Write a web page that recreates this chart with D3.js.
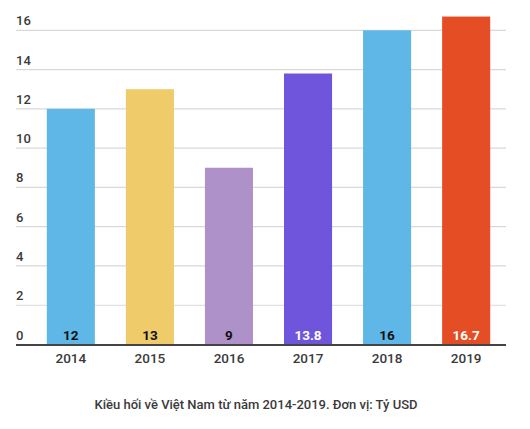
<!DOCTYPE html>
<html>
<head>
<meta charset="utf-8">
<script src="https://cdn.jsdelivr.net/npm/d3@7"></script>
<style>
  body { margin: 0; background: #fff; }
  text { font-family: Roboto, "Noto Sans", sans-serif; }
</style>
</head>
<body>
<div id="chart"></div>
<script>
// Data
var years = ["2014", "2015", "2016", "2017", "2018", "2019"];
var remittances = [12, 13, 9, 13.8, 16, 16.7];
var barColors = ["#5eb7e6", "#f0cb6a", "#ad91c8", "#6e55dc", "#5eb7e6", "#e54e24"];
var labelColors = ["#111", "#111", "#111", "#fff", "#111", "#fff"];
var yTicks = [0, 2, 4, 6, 8, 10, 12, 14, 16];
var caption = "Kiều hối về Việt Nam từ năm 2014-2019. Đơn vị: Tỷ USD";

var svgWidth = 530;
var svgHeight = 429;

var svg = d3.select("#chart")
    .append("svg")
    .attr("width", svgWidth)
    .attr("height", svgHeight);

// Scales
var xBand = d3.scaleBand()
    .domain(years)
    .range([31, 506])
    .paddingInner(0.392)
    .paddingOuter(0.2);

var yLinear = d3.scaleLinear()
    .domain([0, 16])
    .range([344.5, 30.3]);

// Gridlines + left labels
var grid = svg.append("g");

grid.selectAll("line")
    .data(yTicks.filter(d => d > 0))
    .enter()
    .append("line")
    .attr("x1", 16)
    .attr("x2", 506)
    .attr("y1", d => yLinear(d))
    .attr("y2", d => yLinear(d))
    .attr("stroke", "#d9d9d9")
    .attr("stroke-width", 1.2);

grid.selectAll("text")
    .data(yTicks)
    .enter()
    .append("text")
    .attr("x", 16)
    .attr("y", d => yLinear(d) - 5)
    .attr("fill", "#3a3a3a")
    .attr("font-size", "13px")
    .attr("font-weight", 500)
    .text(d => d);

// Bars
svg.selectAll("rect.bar")
    .data(remittances)
    .enter()
    .append("rect")
    .classed("bar", true)
    .attr("x", (d, i) => xBand(years[i]))
    .attr("y", d => yLinear(d))
    .attr("width", xBand.bandwidth())
    .attr("height", d => yLinear(0) - yLinear(d))
    .attr("fill", (d, i) => barColors[i]);

// Value labels inside bars
svg.selectAll("text.value")
    .data(remittances)
    .enter()
    .append("text")
    .classed("value", true)
    .attr("x", (d, i) => xBand(years[i]) + xBand.bandwidth() / 2)
    .attr("y", yLinear(0) - 5)
    .attr("text-anchor", "middle")
    .attr("fill", (d, i) => labelColors[i])
    .attr("font-size", "13.5px")
    .attr("font-weight", 700)
    .text(d => d);

// Bottom axis
var bottomAxis = d3.axisBottom(xBand).tickSize(0).tickPadding(8);

var xAxis = svg.append("g")
    .attr("transform", `translate(0, ${yLinear(0) + 0.5})`)
    .call(bottomAxis);

xAxis.select(".domain").remove();
xAxis.append("line")
    .attr("x1", 16)
    .attr("x2", 506)
    .attr("stroke", "#444")
    .attr("stroke-width", 2);

xAxis.selectAll(".tick text")
    .attr("fill", "#3a3a3a")
    .attr("font-size", "13.5px")
    .attr("font-weight", 500)
    .attr("font-family", "Roboto, sans-serif");

// Caption
svg.append("text")
    .attr("x", 256)
    .attr("y", 409)
    .attr("text-anchor", "middle")
    .attr("fill", "#3a3a3a")
    .attr("font-size", "13px")
    .attr("font-weight", 500)
    .text(caption);
</script>
</body>
</html>
